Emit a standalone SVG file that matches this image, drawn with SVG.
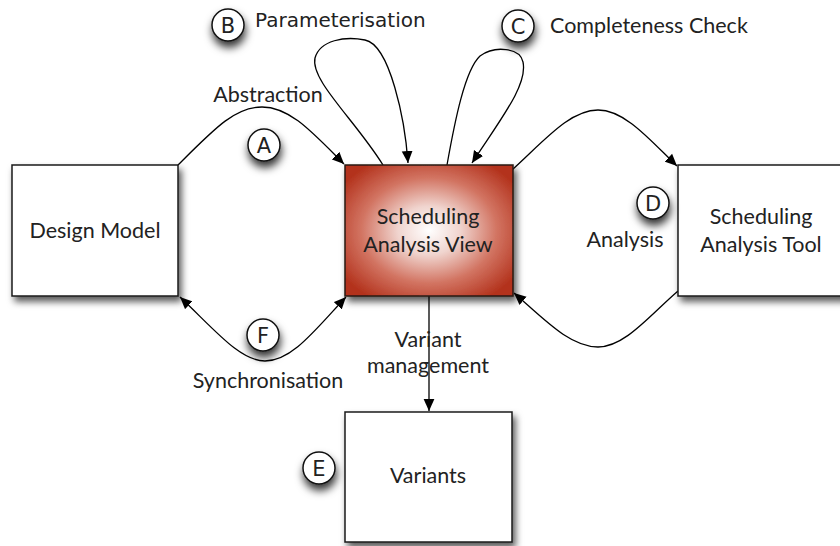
<svg xmlns="http://www.w3.org/2000/svg" width="840" height="546" viewBox="0 0 840 546">
<style>
.box{fill:#ffffff;stroke:#1a1a1a;stroke-width:1.5}
.lbl{font-family:Lato,"Liberation Sans",sans-serif;font-size:21.5px;fill:#222;text-anchor:middle}
.badge circle{fill:#ffffff;stroke:#111;stroke-width:1.5}
.badge text{font-family:"DejaVu Sans","Liberation Sans",sans-serif;font-size:21px;fill:#222;text-anchor:middle}
.hel{font-family:"DejaVu Sans","Liberation Sans",sans-serif;font-size:20px;fill:#222}
.conn path{fill:none;stroke:#000;stroke-width:1.3}
</style>
<defs>
<filter id="sh" x="-20%" y="-20%" width="150%" height="150%">
<feDropShadow dx="3" dy="5" stdDeviation="3.5" flood-color="#000" flood-opacity="0.65"/>
</filter>
<filter id="shc" x="-60%" y="-60%" width="220%" height="240%">
<feDropShadow dx="1" dy="6" stdDeviation="4" flood-color="#000" flood-opacity="0.8"/>
</filter>
<radialGradient id="rg" cx="0.5" cy="0.5" r="0.62">
<stop offset="0" stop-color="#ffffff"/>
<stop offset="0.3" stop-color="#f0d4ce"/>
<stop offset="0.65" stop-color="#d27462"/>
<stop offset="1" stop-color="#b3321c"/>
</radialGradient>
<marker id="ar" viewBox="0 0 10 10" refX="10" refY="5" markerWidth="12" markerHeight="12" markerUnits="userSpaceOnUse" orient="auto-start-reverse">
<path d="M0,0.5 L10,5 L0,9.5 z" fill="#000"/>
</marker>
</defs>

<g id="connectors" class="conn">
<path d="M178,165 C215,128 235,107 262,107 C290,107 312,132 344,164" marker-end="url(#ar)"/>
<path d="M383,165 C355,120 310,80 315,58 C320,40 345,36 365,40 C390,45 405,120 408,163" marker-end="url(#ar)"/>
<path d="M447,165 C455,120 465,70 480,56 C495,45 520,48 523,62 C528,85 500,120 472,163" marker-end="url(#ar)"/>
<path d="M512,170 C545,140 570,110 598,110 C625,110 650,140 677,166" marker-end="url(#ar)"/>
<path d="M678,291 C650,315 625,347 598,347 C570,347 545,320 514,293" marker-end="url(#ar)"/>
<path d="M180,297 C215,330 240,361 265,361 C292,361 315,330 346,297" marker-start="url(#ar)" marker-end="url(#ar)"/>
<path d="M429,296 L429,411" marker-end="url(#ar)"/>
</g>

<g id="design-model">
<rect class="box" x="12" y="165" width="166" height="131" filter="url(#sh)"/>
<text class="lbl" x="95" y="238">Design Model</text>
</g>

<g id="scheduling-analysis-view">
<rect x="345" y="165" width="168" height="131" fill="url(#rg)" stroke="#2a1a14" stroke-width="1.5" filter="url(#sh)"/>
<text class="lbl" x="428" y="224">Scheduling</text>
<text class="lbl" x="428" y="252">Analysis View</text>
</g>

<g id="scheduling-analysis-tool">
<rect class="box" x="678" y="165" width="170" height="131" filter="url(#sh)"/>
<text class="lbl" x="761" y="224">Scheduling</text>
<text class="lbl" x="761" y="252">Analysis Tool</text>
</g>

<g id="variants">
<rect class="box" x="345" y="412" width="167" height="130" filter="url(#sh)"/>
<text class="lbl" x="428" y="483">Variants</text>
</g>

<g id="labels">
<text class="lbl" x="268" y="102">Abstraction</text>
<text class="hel" x="255" y="27">Parameterisation</text>
<text class="lbl" x="550" y="33" style="text-anchor:start">Completeness Check</text>
<text class="lbl" x="625" y="247">Analysis</text>
<text class="lbl" x="268" y="388">Synchronisation</text>
<text class="lbl" x="428" y="347">Variant</text>
<text class="lbl" x="428" y="373">management</text>
</g>

<g id="badge-a" class="badge"><circle cx="264" cy="145" r="16" filter="url(#shc)"/><text x="264" y="152.5">A</text></g>
<g id="badge-b" class="badge"><circle cx="228" cy="25" r="16" filter="url(#shc)"/><text x="228" y="32.5">B</text></g>
<g id="badge-c" class="badge"><circle cx="518" cy="26" r="16" filter="url(#shc)"/><text x="518" y="33.5">C</text></g>
<g id="badge-d" class="badge"><circle cx="653" cy="203" r="16" filter="url(#shc)"/><text x="653" y="210.5">D</text></g>
<g id="badge-e" class="badge"><circle cx="319" cy="468" r="16" filter="url(#shc)"/><text x="319" y="475.5">E</text></g>
<g id="badge-f" class="badge"><circle cx="263" cy="335" r="16" filter="url(#shc)"/><text x="263" y="342.5">F</text></g>
</svg>
